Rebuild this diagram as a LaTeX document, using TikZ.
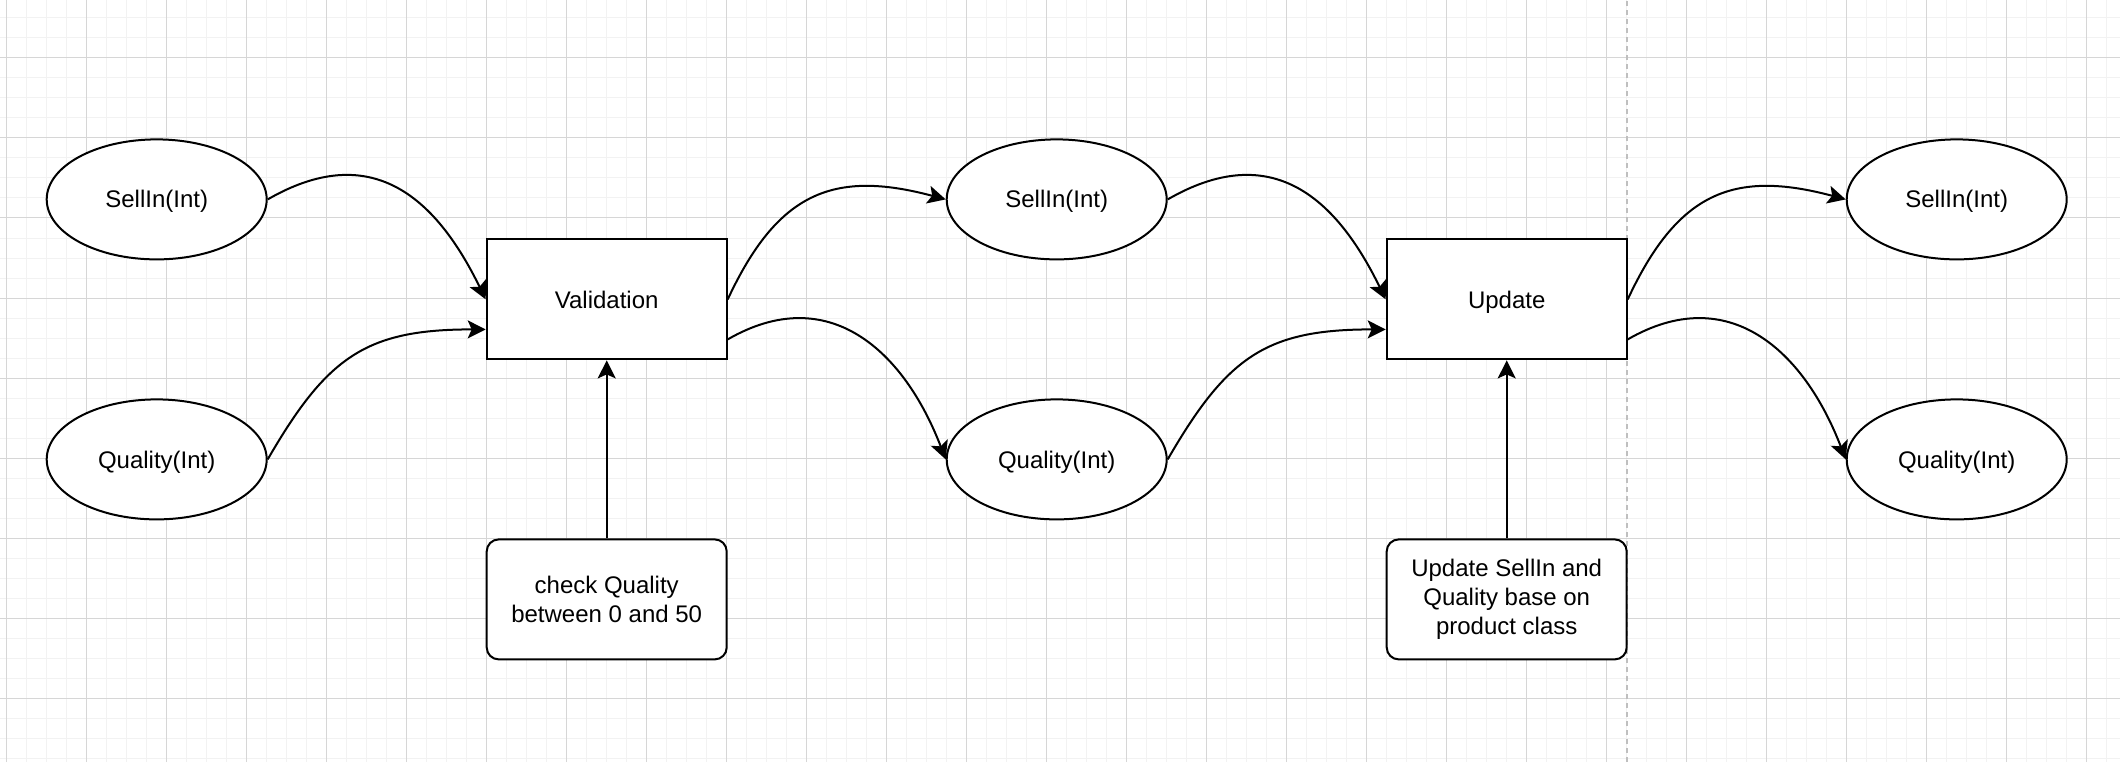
\documentclass[tikz,border=0pt]{standalone}
\usepackage{fontspec}
\setmainfont{Liberation Sans}
\usetikzlibrary{shapes.geometric}
\usetikzlibrary{arrows.meta}

\tikzset{
  gridminor/.style={draw=black!5, line width=0.5pt},
  gridmajor/.style={draw=black!16, line width=0.5pt},
  pagebreak/.style={draw=black!25, line width=0.9pt, dash pattern=on 2.7pt off 1.8pt},
  datafield/.style={ellipse, draw, fill=white, line width=1pt, minimum width=110pt,
    minimum height=60pt, inner sep=0pt, text height=8.6pt, text depth=0pt,
    font=\fontsize{12}{14.4}\selectfont},
  boxbase/.style={rectangle, draw, fill=white, line width=1pt, minimum width=120pt,
    minimum height=60pt, inner sep=0pt, align=center, font=\fontsize{12}{14.4}\selectfont},
  process/.style={boxbase, text height=8.6pt, text depth=0pt},
  rulebox/.style={boxbase, rounded corners=6pt},
  flow/.style={-{Stealth[length=9pt,width=9pt,inset=2pt]}, line width=1pt},
}

\begin{document}
\begin{tikzpicture}[x=1pt,y=1pt]
  \useasboundingbox (0,0) rectangle (1060,381);
  \fill[white] (0,0) rectangle (1060,381);
  \foreach \gx in {0,...,105} \draw[gridminor] ({3.35+10*\gx},0) -- ({3.35+10*\gx},381);
  \foreach \gy in {0,...,37} \draw[gridminor] (0,{2+10*\gy}) -- (1060,{2+10*\gy});
  \foreach \gx in {0,...,26} \draw[gridmajor] ({3.35+40*\gx},0) -- ({3.35+40*\gx},381);
  \foreach \gy in {0,...,8} \draw[gridmajor] (0,{32+40*\gy}) -- (1060,{32+40*\gy});
  \draw[pagebreak] (813.35,0) -- (813.35,381);

  \node[datafield] (sellinA) at (78.35,281.3) {SellIn(Int)};
  \node[datafield] (qualityA) at (78.35,151.3) {Quality(Int)};
  \node[process] (validation) at (303.35,231.3) {Validation};
  \node[rulebox] (check) at (303.35,81.3) {check Quality\\between 0 and 50};
  \node[datafield] (sellinB) at (528.35,281.3) {SellIn(Int)};
  \node[datafield] (qualityB) at (528.35,151.3) {Quality(Int)};
  \node[process] (update) at (753.35,231.3) {Update};
  \node[rulebox] (updrule) at (753.35,81.3) {Update SellIn and\\Quality base on\\product class};
  \node[datafield] (sellinC) at (978.35,281.3) {SellIn(Int)};
  \node[datafield] (qualityC) at (978.35,151.3) {Quality(Int)};

  \draw[flow] (sellinA.east) to[out=30,in=116,looseness=1.25] (validation.west);
  \draw[flow] (qualityA.east) to[out=60,in=180,looseness=1.2] ([yshift=-15pt]validation.west);
  \draw[flow] (validation.east) to[out=65,in=165,looseness=1.25] (sellinB.west);
  \draw[flow] ([yshift=-20pt]validation.east) to[out=30,in=111,looseness=1.2] (qualityB.west);
  \draw[flow] (check) -- (validation);

  \draw[flow] (sellinB.east) to[out=30,in=116,looseness=1.25] (update.west);
  \draw[flow] (qualityB.east) to[out=60,in=180,looseness=1.2] ([yshift=-15pt]update.west);
  \draw[flow] (update.east) to[out=65,in=165,looseness=1.25] (sellinC.west);
  \draw[flow] ([yshift=-20pt]update.east) to[out=30,in=111,looseness=1.2] (qualityC.west);
  \draw[flow] (updrule) -- (update);
\end{tikzpicture}
\end{document}
